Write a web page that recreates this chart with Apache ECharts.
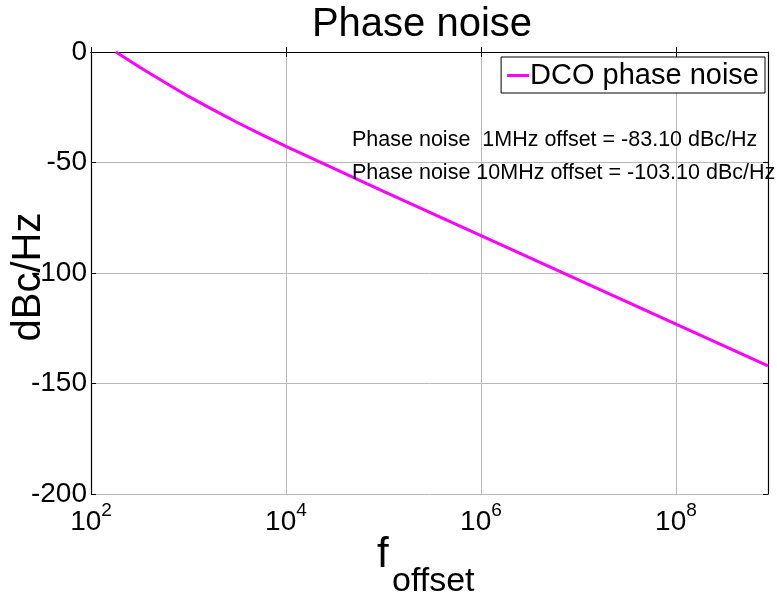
<!DOCTYPE html>
<html>
<head>
<meta charset="utf-8">
<script src="https://cdn.jsdelivr.net/npm/echarts@6/dist/echarts.min.js"></script>
<style>
  html, body { margin: 0; padding: 0; background: #fff; }
  #chart { width: 777px; height: 598px; }
</style>
</head>
<body>
<div id="chart"></div>
<script>
// Offset frequency (Hz) and DCO phase noise (dBc/Hz)
const freqHz = [180, 316, 562, 1000, 1778, 3162, 5623, 1e4, 1e5, 1e6, 1e7, 1e8, 8.8e8];
const phaseNoiseDbc = [0, -6.9, -13.6, -20.1, -26.1, -31.9, -37.4, -42.7, -63.1, -83.1, -103.1, -123.1, -142.0];
const yTicks = [0, -50, -100, -150, -200];
const seriesName = 'DCO phase noise';
const notes = [
  'Phase noise  1MHz offset = -83.10 dBc/Hz',
  'Phase noise 10MHz offset = -103.10 dBc/Hz'
];

const FONT = '"Liberation Sans", Arial, Helvetica, sans-serif';
const chart = echarts.init(document.getElementById('chart'), null, { renderer: 'canvas' });

const points = freqHz.map((f, i) => [f, phaseNoiseDbc[i]]);

// 10^n tick labels with a raised exponent
function powLabel(v) {
  const e = Math.round(Math.log10(v));
  return '{b|10}{s|' + e + '}';
}

const gridLine = { show: true, lineStyle: { color: '#b8b8b8', width: 1 } };
const blackLine = { show: true, lineStyle: { color: '#000', width: 1.2 } };
const inTick = { show: true, inside: true, length: 5, lineStyle: { color: '#000' } };

chart.setOption({
  animation: false,
  backgroundColor: '#fff',
  title: {
    text: 'Phase noise',
    left: 417, top: 0,
    textAlign: 'center',
    textStyle: { fontFamily: FONT, fontSize: 40, fontWeight: 'normal', color: '#000' }
  },
  legend: {
    data: [seriesName],
    right: 12, top: 57,
    icon: 'rect', itemWidth: 22, itemHeight: 3, itemGap: 2,
    padding: [4, 6, 3, 6],
    borderColor: '#000', borderWidth: 1,
    backgroundColor: '#fff',
    textStyle: { fontFamily: FONT, fontSize: 29, color: '#000', padding: [0, 0, 0, -4] }
  },
  grid: { left: 91, right: 9, top: 52, bottom: 104, containLabel: false, outerBoundsMode: 'none' },
  xAxis: [{
    type: 'log', logBase: 10,
    min: 100, max: 8.8e8, interval: 2,
    axisLine: blackLine,
    axisTick: inTick,
    splitLine: gridLine,
    minorTick: { show: false },
    axisLabel: {
      margin: 7,
      showMaxLabel: false,
      formatter: powLabel,
      rich: {
        b: { fontFamily: FONT, fontSize: 28, color: '#000', verticalAlign: 'bottom', lineHeight: 35 },
        s: { fontFamily: FONT, fontSize: 19, color: '#000', verticalAlign: 'top', lineHeight: 20 }
      }
    }
  }, {
    type: 'log', logBase: 10, position: 'top',
    min: 100, max: 8.8e8, interval: 2,
    axisLine: blackLine,
    axisTick: inTick,
    axisLabel: { show: false }, splitLine: { show: false }
  }],
  yAxis: [{
    type: 'value', min: -200, max: 0, interval: 50,
    name: 'dBc/Hz',
    nameLocation: 'middle', nameGap: 42, nameMoveOverlap: false,
    nameTextStyle: { fontFamily: FONT, fontSize: 40, color: '#000', padding: [0, 8, 0, 0] },
    axisLine: blackLine,
    axisTick: inTick,
    splitLine: gridLine,
    axisLabel: {
      margin: 4,
      fontFamily: FONT, fontSize: 28, color: '#000',
      formatter: v => (yTicks.indexOf(v) >= 0 ? String(v) : '')
    }
  }, {
    type: 'value', min: -200, max: 0, interval: 50, position: 'right',
    axisLine: blackLine,
    axisTick: inTick,
    axisLabel: { show: false }, splitLine: { show: false }
  }],
  series: [{
    name: seriesName,
    type: 'line',
    data: points,
    showSymbol: false, symbol: 'none',
    clip: true,
    lineStyle: { color: '#ff00ff', width: 3 },
    itemStyle: { color: '#ff00ff' },
    z: 5
  }],
  graphic: [
    // x-axis title: f with subscript "offset"
    { type: 'text', x: 377, y: 555, z: 10,
      style: { text: 'f', fontFamily: FONT, fontSize: 42, fill: '#000', verticalAlign: 'middle' } },
    { type: 'text', x: 392, y: 582, z: 10,
      style: { text: 'offset', fontFamily: FONT, fontSize: 34, fill: '#000', verticalAlign: 'middle' } }
  ].concat(notes.map((t, i) => ({
    type: 'text',
    x: 352, y: 140 + i * 33,
    z: 10,
    style: { text: t, fontFamily: FONT, fontSize: 21.5, fill: '#000', verticalAlign: 'middle' }
  })))
});
</script>
</body>
</html>
